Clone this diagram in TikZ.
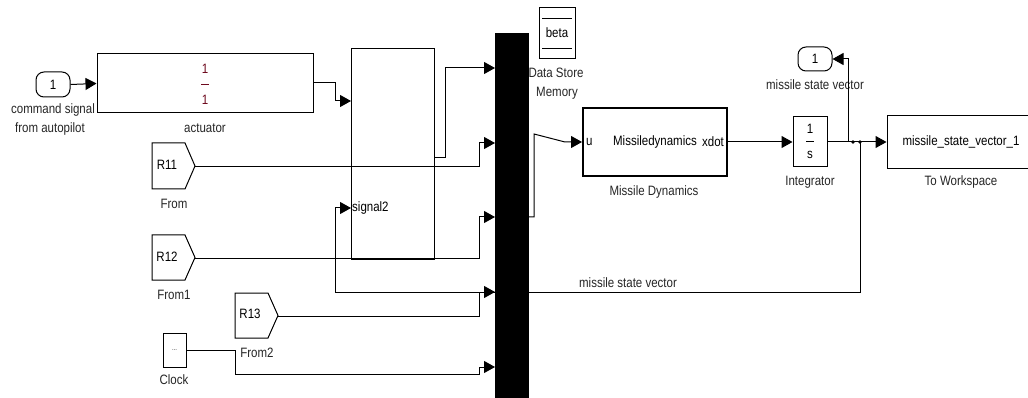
\documentclass[tikz,border=0pt]{standalone}
\usepackage{fontspec}
\usepackage{graphicx}
\setmainfont{Liberation Sans}
\usetikzlibrary{arrows.meta}
\definecolor{fraccol}{RGB}{110,10,30}
\newcommand{\tx}[1]{\scalebox{1}[1.18]{#1}}
\tikzset{
  wire/.style={line width=1pt},
  sig/.style={wire,-{Triangle[length=11pt,width=12pt]}},
  blk/.style={draw,line width=1pt,rectangle,inner sep=0pt},
  port/.style={draw,line width=1pt,rounded corners=8pt,minimum width=34pt,minimum height=25pt,inner sep=0pt,font=\fontsize{11.5}{14}\selectfont},
  lbl/.style={font=\fontsize{11.5}{18}\selectfont,inner sep=0pt,text=black!85},
  txt/.style={font=\fontsize{11.5}{14}\selectfont,inner sep=0pt},
  bpt/.style={fill,circle,inner sep=0pt,minimum size=3.6pt}
}
\begin{document}
\begin{tikzpicture}[x=1pt,y=-1pt]
\useasboundingbox (0,0) rectangle (1028,398);
\fill[white] (0,0) rectangle (1028,398);

% inport
\node[port] (inp) at (53,84.5) {\tx{1}};
\node[lbl] (inplbl1) at (53,110) {\tx{command signal}};
\node[lbl] (inplbl2) at (50,129) {\tx{from autopilot}};

% actuator
\node[blk,minimum width=216pt,minimum height=59pt] (act) at (205,83.5) {};
\node[txt,text=fraccol] (actn) at (205,69) {\tx{1}};
\node[txt,text=fraccol] (actd) at (205,100) {\tx{1}};
\draw[fraccol,line width=1pt] (201,84.5) -- (209,84.5);
\node[lbl] (actlbl) at (205,128) {\tx{actuator}};
\draw[sig] (inp.east) -- (act.west);

% big subsystem box
\node[blk,minimum width=83pt,minimum height=210pt] (sub) at (392.5,154) {};
\node[txt,anchor=west] (sig2) at (352,208) {\tx{signal2}};
\coordinate (subin1) at (351,101);
\coordinate (subin2) at (351,208);
\coordinate (subout) at (434,158);
\draw[sig] (313,83) -- (335,83) -- (335,101) -- (subin1);

% From blocks
\coordinate (r11tip) at (195,166);
\draw[line width=1pt] (152,143) -- (185,143) -- (r11tip) -- (185,189) -- (152,189) -- cycle;
\node[txt] (r11) at (167,165) {\tx{R11}};
\node[lbl] (r11lbl) at (174,204) {\tx{From}};

\coordinate (r12tip) at (195,257.5);
\draw[line width=1pt] (152,235) -- (185,235) -- (r12tip) -- (185,280) -- (152,280) -- cycle;
\node[txt] (r12) at (167,257) {\tx{R12}};
\node[lbl] (r12lbl) at (174,295) {\tx{From1}};

\coordinate (r13tip) at (278,315.5);
\draw[line width=1pt] (235,293) -- (268,293) -- (r13tip) -- (268,338) -- (235,338) -- cycle;
\node[txt] (r13) at (250,314) {\tx{R13}};
\node[lbl] (r13lbl) at (257,353) {\tx{From2}};

% clock
\node[blk,minimum width=23pt,minimum height=34pt] (clk) at (174.5,350) {};
\node[font=\fontsize{6}{7}\selectfont,inner sep=0pt] (clkd) at (174.5,350) {...};
\node[lbl] (clklbl) at (174,380) {\tx{Clock}};

% mux inputs
\coordinate (m1) at (495,68);
\coordinate (m2) at (495,143);
\coordinate (m3) at (495,217);
\coordinate (m4) at (495,292);
\coordinate (m5) at (495,367);

% feedback line (passes behind mux)
\coordinate (br1) at (848,142);
\coordinate (br2) at (860,142);
\draw[sig] (br2) -- (860,292) -- (335,292) -- (335,208) -- (subin2);
\node[lbl] (fblbl) at (628,283) {\tx{missile state vector}};

\draw[sig] (subout) -- (445,158) -- (445,68) -- (m1);
\draw[sig] (r11tip) ++(0,1) -- (479,167) -- (479,143) -- (m2);
\draw[sig] (r12tip) ++(0,0.5) -- (479,258) -- (479,217) -- (m3);
\draw[sig] (r13tip) ++(0,0.5) -- (479,316) -- (479,292) -- (m4);
\draw[sig] (clk.east) -- (235,350) -- (235,374) -- (479,374) -- (479,367) -- (m5);

% mux
\node[fill=black,minimum width=34pt,minimum height=366pt,inner sep=0pt] (mux) at (512,216) {};

% data store memory
\node[blk,minimum width=36pt,minimum height=51pt] (dsm) at (557,33.5) {};
\draw[line width=1pt] (542,19) -- (572,19);
\draw[line width=1pt] (542,49) -- (572,49);
\node[txt] (beta) at (557,33) {\tx{beta}};
\node[lbl] (dsmlbl1) at (556,73) {\tx{Data Store}};
\node[lbl] (dsmlbl2) at (557,93) {\tx{Memory}};

% missile dynamics
\node[blk,line width=2pt,minimum width=144pt,minimum height=68pt] (md) at (655,142) {};
\node[txt,anchor=west] (mdu) at (586,142) {\tx{u}};
\node[txt] (mdname) at (655,142) {\tx{Missiledynamics}};
\node[txt] (mdx) at (713,142) {\tx{xdot}};
\node[lbl] (mdlbl) at (654,192) {\tx{Missile Dynamics}};
\draw[sig] (529,217) -- (534,217) -- (534,134) -- (565,142) -- (md.west);

% integrator
\node[blk,minimum width=34pt,minimum height=50pt] (intg) at (810,142) {};
\node[txt] (intn) at (810,129) {\tx{1}};
\node[txt] (intd) at (810,155) {\tx{s}};
\draw[line width=1pt] (806,142) -- (814,142);
\node[lbl] (intlbl) at (810,182) {\tx{Integrator}};
\draw[sig] (md.east) -- (intg.west);

% outport
\node[port,minimum height=24pt] (outp) at (815,59) {\tx{1}};
\node[lbl] (outlbl) at (815,85) {\tx{missile state vector}};

% to workspace
\node[blk,minimum width=148pt,minimum height=53pt] (tw) at (961,142) {};
\node[txt] (twname) at (961,142) {\tx{missile\_state\_vector\_1}};
\node[lbl] (twlbl) at (961,182) {\tx{To Workspace}};

\draw[sig] (intg.east) -- (tw.west);
\draw[sig] (br1) -- (848,59) -- (outp.east);
\node[bpt] (bp1) at (853,142) {};
\node[bpt] (bp2) at (br2) {};
\end{tikzpicture}
\end{document}
